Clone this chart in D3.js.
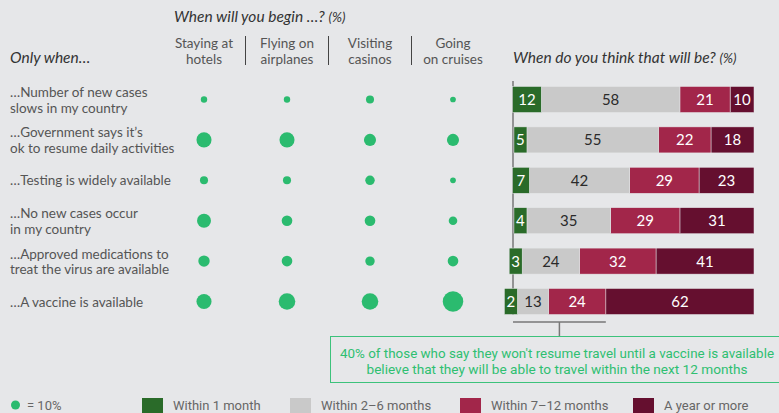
<!DOCTYPE html>
<html>
<head>
<meta charset="utf-8">
<script src="https://cdn.jsdelivr.net/npm/d3@7"></script>
<style>
  body { margin: 0; background: #e6e7e9; }
  svg { display: block; font-family: Lato, "Open Sans", sans-serif; }
  .rowlab { fill: #555; font-size: 13.5px; }
  .colhead { fill: #555; font-size: 13.5px; text-anchor: middle; }
  .title { fill: #333; font-size: 15.5px; font-style: italic; }
  .barlab { font-size: 15px; text-anchor: middle; }
  .leg { fill: #666; font-family: Roboto, sans-serif; font-size: 13px; }
  .note { fill: #2fbf71; font-family: Roboto, sans-serif; font-size: 13.5px; text-anchor: middle; }
</style>
</head>
<body>
<script>
// data
const conditions = [
    ["…Number of new cases", "slows in my country"],
    ["…Government says it’s", "ok to resume daily activities"],
    ["…Testing is widely available"],
    ["…No new cases occur", "in my country"],
    ["…Approved medications to", "treat the virus are available"],
    ["…A vaccine is available"]
];
const activities = [
    ["Staying at", "hotels"],
    ["Flying on", "airplanes"],
    ["Visiting", "casinos"],
    ["Going", "on cruises"]
];
// share (%) per condition, columns follow activities
const dotValues = [
    [5, 5, 8, 4],
    [28, 28, 18, 18],
    [8, 8, 11, 4],
    [24, 14, 14, 9],
    [16, 14, 11, 14],
    [28, 34, 34, 52]
];
const timeframes = ["Within 1 month", "Within 2–6 months", "Within 7–12 months", "A year or more"];
const timeColors = ["#2a6b29", "#c9c9c9", "#a2264a", "#650f2f"];
const barValues = [
    [12, 58, 21, 10],
    [5, 55, 22, 18],
    [7, 42, 29, 23],
    [4, 35, 29, 31],
    [3, 24, 32, 41],
    [2, 13, 24, 62]
];

const width = 779;
const height = 413;

const svg = d3.select("body")
    .append("svg")
    .attr("width", width)
    .attr("height", height);

svg.append("rect")
    .attr("width", width)
    .attr("height", height)
    .attr("fill", "#e6e7e9");

const rowIdx = d3.range(conditions.length);

// row positions shared by the dots and the bars
const y = d3.scalePoint()
    .domain(rowIdx)
    .range([99.5, 301.5]);

const xCol = d3.scalePoint()
    .domain(d3.range(activities.length))
    .range([204, 453]);

// 10% dot has radius 4.5
const r = d3.scaleSqrt()
    .domain([0, 10])
    .range([0, 4.5]);

// bars are aligned on the right, measured leftwards
const xBar = d3.scaleLinear()
    .domain([0, 100])
    .range([754, 515]);

// titles
svg.append("text")
    .attr("class", "title")
    .attr("x", 174)
    .attr("y", 22)
    .text("When will you begin …? ")
    .append("tspan")
    .style("font-size", "13.5px")
    .text("(%)");

svg.append("text")
    .attr("class", "title")
    .attr("x", 10)
    .attr("y", 63)
    .text("Only when…");

svg.append("text")
    .attr("class", "title")
    .attr("x", 513)
    .attr("y", 63)
    .text("When do you think that will be? ")
    .append("tspan")
    .style("font-size", "13.5px")
    .text("(%)");

// column headers
activities.forEach(function (lines, i) {
    const t = svg.append("text")
        .attr("class", "colhead")
        .attr("y", 48);
    lines.forEach(function (s, j) {
        t.append("tspan")
            .attr("x", xCol(i))
            .attr("dy", j === 0 ? 0 : 15.5)
            .text(s);
    });
    if (i > 0) {
        const xs = (xCol(i - 1) + xCol(i)) / 2;
        svg.append("line")
            .attr("x1", xs).attr("x2", xs)
            .attr("y1", 36).attr("y2", 65)
            .attr("stroke", "#444")
            .attr("stroke-width", 1);
    }
});

// row labels
conditions.forEach(function (lines, i) {
    const t = svg.append("text")
        .attr("class", "rowlab")
        .attr("y", y(i) + 5 - (lines.length - 1) * 7.5);
    lines.forEach(function (s, j) {
        t.append("tspan")
            .attr("x", 10)
            .attr("dy", j === 0 ? 0 : 15.5)
            .text(s);
    });
});

// dots
dotValues.forEach(function (vals, i) {
    svg.selectAll(".dot" + i)
        .data(vals)
        .enter()
        .append("circle")
        .attr("cx", function (d, j) { return xCol(j); })
        .attr("cy", y(i))
        .attr("r", function (d) { return r(d); })
        .attr("fill", "#2bbb6f");
});

// axis line of the bars (behind the bars)
svg.append("line")
    .attr("x1", 513).attr("x2", 513)
    .attr("y1", 81).attr("y2", 315)
    .attr("stroke", "#777")
    .attr("stroke-width", 1.5);

// stacked bars
const barH = 26;
const minW = 13;
barValues.forEach(function (vals, i) {
    let cum = 0;
    const segs = [];
    for (let k = vals.length - 1; k >= 0; k--) {
        const right = xBar(cum);
        let left = xBar(cum + vals[k]);
        if (right - left < minW) left = right - minW;
        segs.push({ k: k, v: vals[k], left: left, right: right });
        cum += vals[k];
    }
    const g = svg.append("g");
    g.selectAll("rect")
        .data(segs)
        .enter()
        .append("rect")
        .attr("x", function (d) { return d.left; })
        .attr("y", y(i) - barH / 2)
        .attr("width", function (d) { return d.right - d.left; })
        .attr("height", barH)
        .attr("fill", function (d) { return timeColors[d.k]; })
        .attr("stroke", "#e6e7e9")
        .attr("stroke-width", 0.5);
    g.selectAll("text")
        .data(segs)
        .enter()
        .append("text")
        .attr("class", "barlab")
        .attr("x", function (d) { return (d.left + d.right) / 2; })
        .attr("y", y(i) + 5.5)
        .attr("fill", function (d) { return d.k === 1 ? "#2a2a2a" : "#fff"; })
        .text(function (d) { return d.v; });
});

// bracket under the vaccine bar: everything within 12 months
const vac = barValues[barValues.length - 1];
const bx2 = xBar(vac[3]);
const bx1 = 513;
const bmid = (bx1 + bx2) / 2;
svg.append("line")
    .attr("x1", bx1).attr("x2", bx2)
    .attr("y1", 322).attr("y2", 322)
    .attr("stroke", "#777")
    .attr("stroke-width", 1.5);
svg.append("line")
    .attr("x1", bmid).attr("x2", bmid)
    .attr("y1", 322).attr("y2", 336)
    .attr("stroke", "#777")
    .attr("stroke-width", 1.5);

// note box
svg.append("rect")
    .attr("x", 330.5)
    .attr("y", 336.5)
    .attr("width", 460)
    .attr("height", 46)
    .attr("fill", "none")
    .attr("stroke", "#3cc27b")
    .attr("stroke-width", 1);

const noteLines = [
    "40% of those who say they won't resume travel until a vaccine is available",
    "believe that they will be able to travel within the next 12 months"
];
const noteW = [434, 381];
noteLines.forEach(function (s, i) {
    svg.append("text")
        .attr("class", "note")
        .attr("x", 557)
        .attr("y", 357.5 + i * 16)
        .attr("textLength", noteW[i])
        .attr("lengthAdjust", "spacingAndGlyphs")
        .text(s);
});

// legend
svg.append("circle")
    .attr("cx", 15.5)
    .attr("cy", 405)
    .attr("r", r(10))
    .attr("fill", "#2bbb6f");
svg.append("text")
    .attr("class", "leg")
    .attr("x", 27)
    .attr("y", 409.5)
    .text("= 10%");

const legX = [142, 290, 460, 633];
timeframes.forEach(function (s, i) {
    svg.append("rect")
        .attr("x", legX[i])
        .attr("y", 398)
        .attr("width", 21)
        .attr("height", 21)
        .attr("fill", timeColors[i]);
    svg.append("text")
        .attr("class", "leg")
        .attr("x", legX[i] + 31)
        .attr("y", 409.5)
        .text(s);
});
</script>
</body>
</html>
